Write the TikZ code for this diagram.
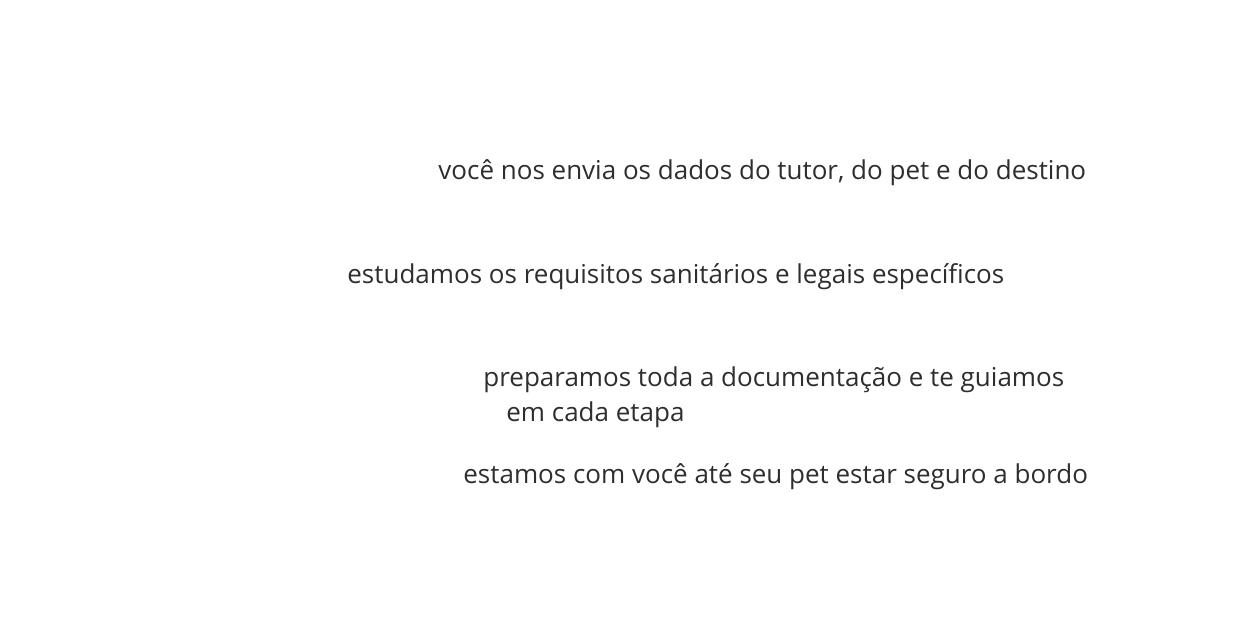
\documentclass[tikz,border=0pt]{standalone}
\usepackage{fontspec}
\setmainfont{Open Sans}
\definecolor{txt}{HTML}{2E2E2E}
\begin{document}
\begin{tikzpicture}[x=0.5pt,y=-0.5pt,
  lbl/.style={anchor=base west,inner sep=0pt,text=txt,font=\fontsize{13}{16}\selectfont}]
\useasboundingbox (0,0) rectangle (1240,620);
\node[lbl] (a) at (438,180) {você nos envia os dados do tutor, do pet e do destino};
\node[lbl] (b) at (347,283) {estudamos os requisitos sanitários e legais específicos};
\node[lbl] (c) at (483,386) {preparamos toda a documentação e te guiamos};
\node[lbl] (c2) at (506,421) {em cada etapa};
\node[lbl] (d) at (463,483) {estamos com você até seu pet estar seguro a bordo};
\end{tikzpicture}
\end{document}
